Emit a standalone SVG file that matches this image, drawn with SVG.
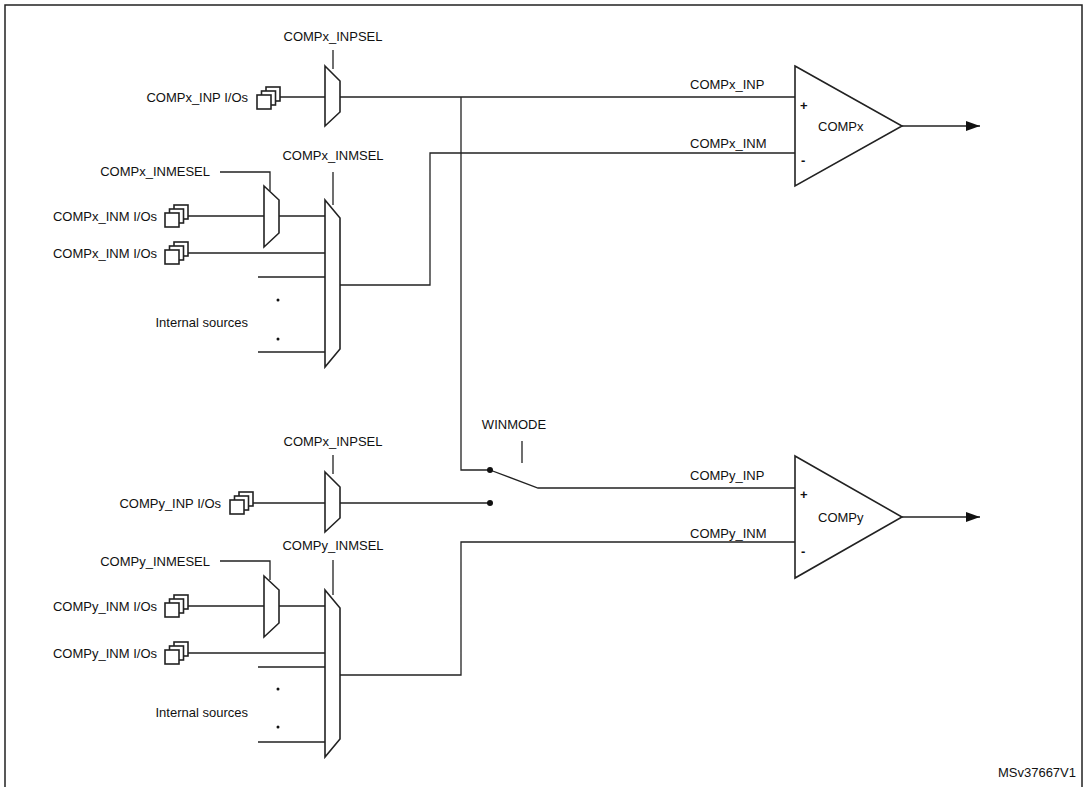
<svg xmlns="http://www.w3.org/2000/svg" xmlns:xlink="http://www.w3.org/1999/xlink" width="1087" height="787" viewBox="0 0 1087 787">
<style>
text{font-family:"Liberation Sans",Arial,sans-serif;font-size:13px;fill:#111}
.l{stroke:#222;stroke-width:1.3;fill:none}
.s{stroke:#222;stroke-width:1.6;fill:#fff}
.e{text-anchor:end}.m{text-anchor:middle}
</style>
<defs>
<g id="io"><rect class="s" x="9" y="0" width="14" height="14" stroke-width="1.2"/><rect class="s" x="4.5" y="4" width="14" height="14" stroke-width="1.2"/><rect class="s" x="0" y="8" width="14" height="14" stroke-width="1.2"/></g>
<marker id="ar" markerWidth="14" markerHeight="10" refX="14" refY="5" orient="auto" markerUnits="userSpaceOnUse"><path d="M0,0L14,5L0,10z" fill="#111"/></marker>
</defs>
<rect x="5" y="5" width="1077" height="785" fill="#fff" stroke="#222" stroke-width="1.5"/>
<g id="connectors" class="l">
<path d="M280,97H325M340,97H795M461,97V470H490"/>
<path d="M220,172H270V191M333,172V205M188,216H264M279,216H325M188,253H325M258,277H325M258,352H325M340,285H430V153H795"/>
<path d="M902,126H980" marker-end="url(#ar)"/>
<path d="M333,50V69M333,455V474"/>
<path d="M253,503H325M340,503H490M490,470L538,488H795M522,441V463"/>
<path d="M220,561H270V580M333,560V595M188,606H264M279,606H325M188,653H325M258,667H325M258,742H325M340,675H461V542H795"/>
<path d="M902,517H980" marker-end="url(#ar)"/>
</g>
<circle cx="490" cy="470" r="3" fill="#111"/><circle cx="490" cy="503" r="3" fill="#111"/>
<g id="mux-x-inp"><path class="s" d="M325,66L340,81V112L325,126Z"/></g>
<g id="mux-x-inme"><path class="s" d="M264,186L279,200V233L264,247Z"/></g>
<g id="mux-x-inm"><path class="s" d="M325,200L340,218V349L325,367Z"/></g>
<g id="mux-y-inp"><path class="s" d="M325,472L340,487V518L325,532Z"/></g>
<g id="mux-y-inme"><path class="s" d="M264,576L279,590V623L264,637Z"/></g>
<g id="mux-y-inm"><path class="s" d="M325,590L340,608V739L325,757Z"/></g>
<g id="compx"><path class="s" d="M795,66L902,126L795,186Z"/><text x="800" y="110" font-weight="bold">+</text><text x="801" y="165" font-weight="bold">-</text><text x="818" y="131">COMPx</text></g>
<g id="compy"><path class="s" d="M795,456L902,517L795,578Z"/><text x="800" y="499" font-weight="bold">+</text><text x="801" y="556" font-weight="bold">-</text><text x="818" y="522">COMPy</text></g>
<g id="ios">
<use xlink:href="#io" x="257" y="87"/><use xlink:href="#io" x="165" y="205"/><use xlink:href="#io" x="165" y="242"/>
<use xlink:href="#io" x="230" y="492"/><use xlink:href="#io" x="165" y="595"/><use xlink:href="#io" x="165" y="642"/>
</g>
<circle cx="278" cy="300" r="1.5" fill="#111"/><circle cx="278" cy="339" r="1.5" fill="#111"/>
<circle cx="278" cy="689" r="1.5" fill="#111"/><circle cx="278" cy="727" r="1.5" fill="#111"/>
<g id="labels">
<text class="m" x="333" y="41">COMPx_INPSEL</text>
<text class="e" x="248" y="102">COMPx_INP I/Os</text>
<text class="m" x="333" y="160">COMPx_INMSEL</text>
<text class="e" x="210" y="176">COMPx_INMESEL</text>
<text class="e" x="157" y="221">COMPx_INM I/Os</text>
<text class="e" x="157" y="258">COMPx_INM I/Os</text>
<text class="e" x="248" y="327">Internal sources</text>
<text x="690" y="89">COMPx_INP</text>
<text x="690" y="148">COMPx_INM</text>
<text class="m" x="514" y="429">WINMODE</text>
<text class="m" x="333" y="446">COMPx_INPSEL</text>
<text class="e" x="221" y="508">COMPy_INP I/Os</text>
<text x="690" y="480">COMPy_INP</text>
<text x="690" y="538">COMPy_INM</text>
<text class="m" x="333" y="550">COMPy_INMSEL</text>
<text class="e" x="210" y="566">COMPy_INMESEL</text>
<text class="e" x="157" y="611">COMPy_INM I/Os</text>
<text class="e" x="157" y="658">COMPy_INM I/Os</text>
<text class="e" x="248" y="717">Internal sources</text>
<text class="e" x="1076" y="777">MSv37667V1</text>
</g>
</svg>
